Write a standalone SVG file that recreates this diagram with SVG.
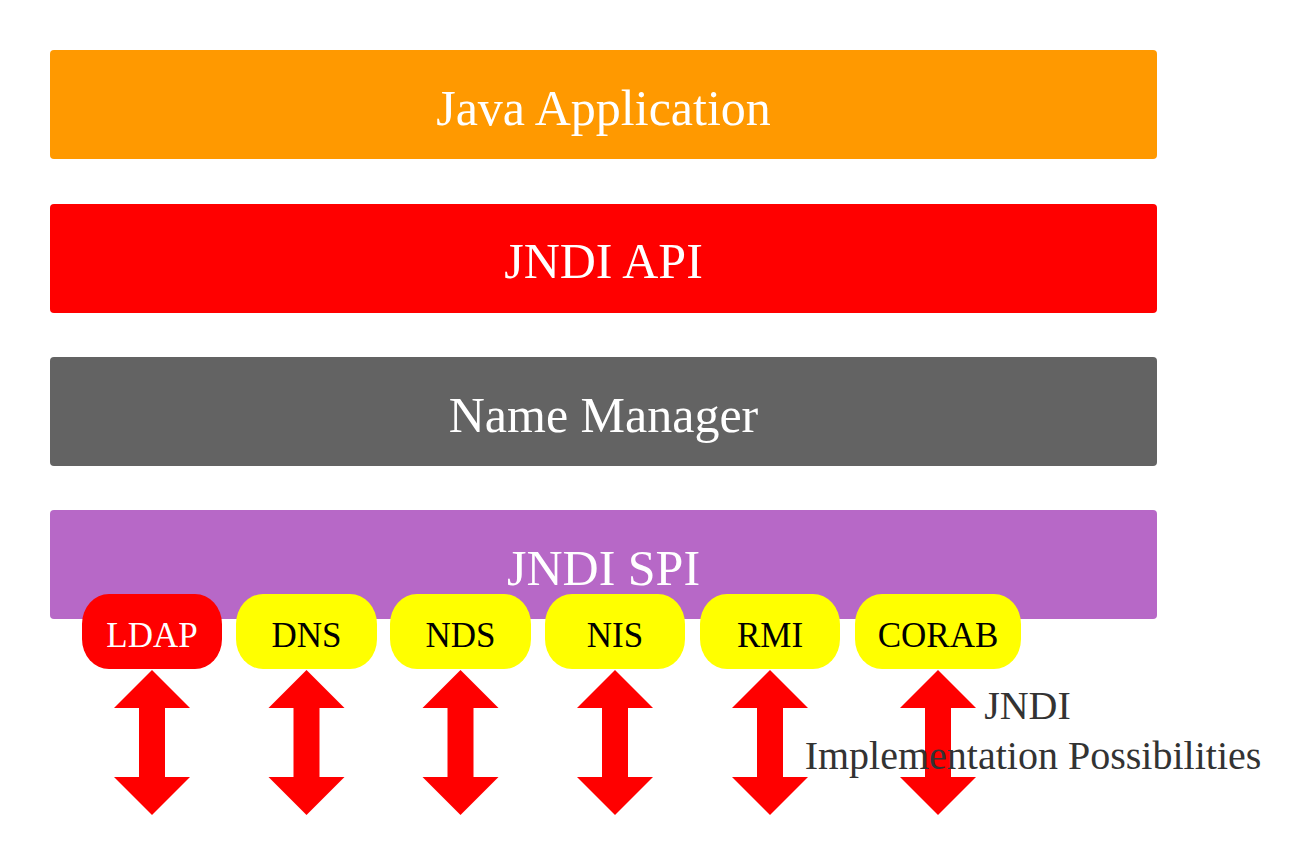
<svg xmlns="http://www.w3.org/2000/svg" width="1312" height="862" viewBox="0 0 1312 862">
<style>
.layer text{font-family:"Liberation Serif","Times New Roman",serif;font-size:50px;fill:#fff;text-anchor:middle}
.pill text{font-family:"Liberation Serif","Times New Roman",serif;font-size:35px;text-anchor:middle}
.lbl{font-family:"Liberation Serif","Times New Roman",serif;font-size:40px;fill:#333;text-anchor:middle}
.arrow{fill:#ff0000}
</style>
<defs>
<path id="dbl" d="M0,0 L38,38 L13,38 L13,107 L38,107 L0,145 L-38,107 L-13,107 L-13,38 L-38,38 Z"/>
</defs>
<rect width="1312" height="862" fill="#fff"/>
<g id="java-application" class="layer"><rect x="50" y="50" width="1107" height="109" rx="4" fill="#ff9900"/><text x="603.5" y="124.5">Java Application</text></g>
<g id="jndi-api" class="layer"><rect x="50" y="204" width="1107" height="109" rx="4" fill="#ff0000"/><text x="603.5" y="278">JNDI API</text></g>
<g id="name-manager" class="layer"><rect x="50" y="357" width="1107" height="109" rx="4" fill="#636363"/><text x="603.5" y="431.5">Name Manager</text></g>
<g id="jndi-spi" class="layer"><rect x="50" y="510" width="1107" height="109" rx="4" fill="#b768c7"/><text x="603.5" y="585">JNDI SPI</text></g>
<g id="ldap" class="pill"><rect x="82" y="594" width="140" height="75" rx="27" ry="30" fill="#ff0000"/><text x="152" y="647" fill="#fff">LDAP</text></g>
<g id="dns" class="pill"><rect x="236" y="594" width="141" height="75" rx="27" ry="30" fill="#ffff00"/><text x="306.5" y="647" fill="#000">DNS</text></g>
<g id="nds" class="pill"><rect x="390" y="594" width="141" height="75" rx="27" ry="30" fill="#ffff00"/><text x="460.5" y="647" fill="#000">NDS</text></g>
<g id="nis" class="pill"><rect x="545" y="594" width="140" height="75" rx="27" ry="30" fill="#ffff00"/><text x="615" y="647" fill="#000">NIS</text></g>
<g id="rmi" class="pill"><rect x="700" y="594" width="140" height="75" rx="27" ry="30" fill="#ffff00"/><text x="770" y="647" fill="#000">RMI</text></g>
<g id="corab" class="pill"><rect x="855" y="594" width="166" height="75" rx="27" ry="30" fill="#ffff00"/><text x="938" y="647" fill="#000">CORAB</text></g>
<g id="connectors" class="arrow">
<use href="#dbl" x="152" y="670"/>
<use href="#dbl" x="306.5" y="670"/>
<use href="#dbl" x="460.5" y="670"/>
<use href="#dbl" x="615" y="670"/>
<use href="#dbl" x="770" y="670"/>
<use href="#dbl" x="938" y="670"/>
</g>
<g id="caption"><text class="lbl" x="1027.5" y="718.5">JNDI</text><text class="lbl" x="1033" y="768.5">Implementation Possibilities</text></g>
</svg>
